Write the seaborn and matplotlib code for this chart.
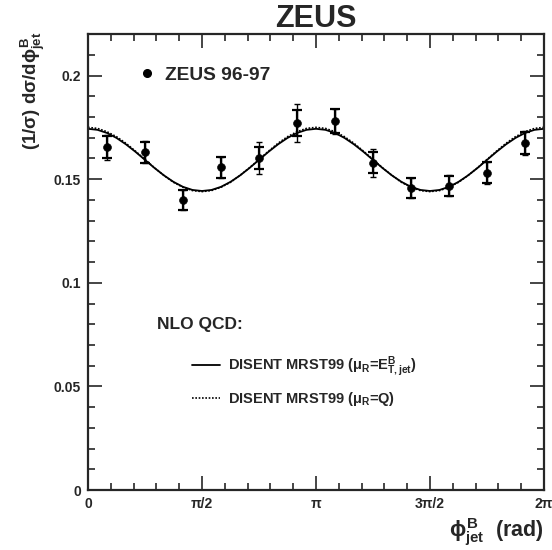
import numpy as np
import matplotlib
matplotlib.use("Agg")
import matplotlib.pyplot as plt
from matplotlib.ticker import MultipleLocator, FixedLocator
import seaborn as sns

# data points (bin centres in units of pi)
phi_pts = np.array([1, 3, 5, 7, 9, 11, 13, 15, 17, 19, 21, 23]) / 12.0
y_pts = [0.1654, 0.1630, 0.1399, 0.1557, 0.1600, 0.1771, 0.1780, 0.1580, 0.1458, 0.1468, 0.1531, 0.1675]
err_stat = [0.0054, 0.0050, 0.0047, 0.0050, 0.0053, 0.0063, 0.0058, 0.0051, 0.0047, 0.0048, 0.0050, 0.0055]
err_tot = [0.0060, 0.0052, 0.0049, 0.0052, 0.0077, 0.0090, 0.0060, 0.0068, 0.0050, 0.0051, 0.0052, 0.0057]

# NLO curves, read every pi/24
phi_curve = np.arange(49) / 24.0
nlo_et = [0.1743, 0.1738, 0.1723, 0.1699, 0.1668, 0.1632, 0.1593, 0.1554, 0.1518, 0.1487, 0.1463, 0.1448, 0.1443,
          0.1448, 0.1463, 0.1487, 0.1518, 0.1554, 0.1593, 0.1632, 0.1668, 0.1699, 0.1723, 0.1738, 0.1743,
          0.1738, 0.1723, 0.1699, 0.1668, 0.1632, 0.1593, 0.1554, 0.1518, 0.1487, 0.1463, 0.1448, 0.1443,
          0.1448, 0.1463, 0.1487, 0.1518, 0.1554, 0.1593, 0.1632, 0.1668, 0.1699, 0.1723, 0.1738, 0.1743]
nlo_q = [0.1750, 0.1745, 0.1729, 0.1705, 0.1673, 0.1635, 0.1595, 0.1555, 0.1518, 0.1485, 0.1461, 0.1445, 0.1440,
         0.1445, 0.1461, 0.1485, 0.1518, 0.1555, 0.1595, 0.1635, 0.1673, 0.1705, 0.1729, 0.1745, 0.1750,
         0.1745, 0.1729, 0.1705, 0.1673, 0.1635, 0.1595, 0.1555, 0.1518, 0.1485, 0.1461, 0.1445, 0.1440,
         0.1445, 0.1461, 0.1485, 0.1518, 0.1555, 0.1595, 0.1635, 0.1673, 0.1705, 0.1729, 0.1745, 0.1750]

xtick_labels = ["0", "\u03c0/2", "\u03c0", "3\u03c0/2", "2\u03c0"]

sns.set_style("ticks")
plt.rcParams["font.family"] = ["Liberation Sans", "DejaVu Sans"]
plt.rcParams["font.weight"] = "bold"
plt.rcParams["mathtext.fontset"] = "custom"
plt.rcParams["mathtext.rm"] = "Liberation Sans:bold"
plt.rcParams["mathtext.bf"] = "Liberation Sans:bold"
plt.rcParams["mathtext.it"] = "Liberation Sans:bold"

fig = plt.figure(figsize=(5.52, 5.5), dpi=100)
ax = fig.add_axes([0.1594, 0.109, 0.8261, 0.829])

x_pts = phi_pts * np.pi
x_curve = phi_curve * np.pi

sns.lineplot(x=x_curve, y=nlo_et, ax=ax, color="black", lw=1.3,
             label=r"DISENT MRST99 ($\mu_{\mathbf{R}}$=E$^{\mathbf{B}}_{\mathbf{T,jet}}$)")
sns.lineplot(x=x_curve, y=nlo_q, ax=ax, color="black", lw=1.2, linestyle=(0, (1, 1)),
             label=r"DISENT MRST99 ($\mu_{\mathbf{R}}$=Q)")
curve_handles = ax.get_lines()[:2]

ax.errorbar(x_pts, y_pts, yerr=err_tot, fmt="none", ecolor="black", elinewidth=1.0, capsize=2.5, capthick=1.0)
ax.errorbar(x_pts, y_pts, yerr=err_stat, fmt="none", ecolor="black", elinewidth=1.6, capsize=3.5, capthick=1.6)
sns.scatterplot(x=x_pts, y=y_pts, ax=ax, color="black", s=32, edgecolor="black", zorder=5, legend=False)
data_handle = plt.Line2D([], [], ls="none", marker="o", ms=5.5, color="black")

ax.set_xlim(0, 2 * np.pi)
ax.set_ylim(0, 0.22)
ax.xaxis.set_major_locator(FixedLocator([0, np.pi / 2, np.pi, 1.5 * np.pi, 2 * np.pi]))
ax.set_xticklabels(xtick_labels)
ax.xaxis.set_minor_locator(MultipleLocator(np.pi / 10))
ax.yaxis.set_major_locator(MultipleLocator(0.05))
ax.yaxis.set_minor_locator(MultipleLocator(0.01))
ax.set_yticks([0, 0.05, 0.1, 0.15, 0.2])
ax.set_yticklabels(["0", "0.05", "0.1", "0.15", "0.2"])
ax.tick_params(which="both", direction="in", top=True, right=True, width=1.2, labelsize=10, pad=5)
ax.tick_params(which="major", length=10)
ax.tick_params(which="minor", length=5)
for s in ax.spines.values():
    s.set_linewidth(1.6)

ax.set_title("ZEUS", fontsize=22, fontweight="bold", pad=1)
ax.set_ylabel(r"(1/$\sigma$) d$\sigma$/d$\phi^{\mathbf{B}}_{\mathbf{jet}}$", fontsize=13.5, fontweight="bold")
ax.yaxis.set_label_coords(-0.09, 0.875)
ax.set_xlabel(r"$\phi^{\mathbf{B}}_{\mathbf{jet}}$  (rad)", fontsize=15.5, fontweight="bold", loc="right", labelpad=4)

leg_data = ax.legend([data_handle], ["ZEUS 96-97"], loc="center left", bbox_to_anchor=(0.07, 0.91),
                     frameon=False, handlelength=1.0, handletextpad=0.45, prop={"size": 13.8, "weight": "bold"})
ax.add_artist(leg_data)

ax.text(0.151, 0.362, "NLO QCD:", transform=ax.transAxes, fontsize=12.5, fontweight="bold", va="center")
ax.legend(curve_handles, [h.get_label() for h in curve_handles], loc="upper left", bbox_to_anchor=(0.2, 0.325),
          frameon=False, handlelength=1.9, handletextpad=0.55, labelspacing=0.7, prop={"size": 10.5, "weight": "bold"})

fig.savefig("out.png", dpi=100)
